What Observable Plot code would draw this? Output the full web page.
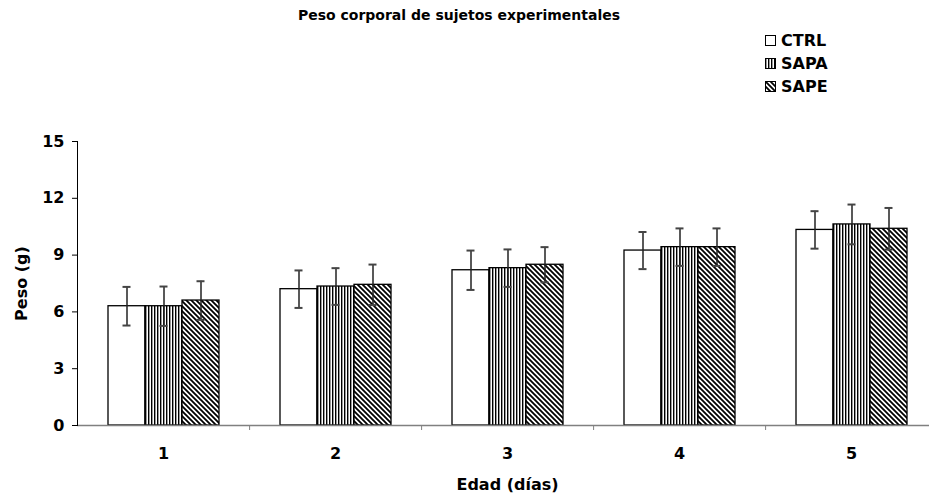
<!DOCTYPE html>
<html><head><meta charset="utf-8">
<script src="https://cdn.jsdelivr.net/npm/d3@7"></script>
<script src="https://cdn.jsdelivr.net/npm/@observablehq/plot@0.6"></script>
<style>
html,body{margin:0;padding:0;background:#fff;overflow:hidden;}
#wrap{position:relative;width:929px;height:498px;font-family:"DejaVu Sans",sans-serif;font-weight:bold;color:#000;}
#title{position:absolute;left:0;width:918px;top:7px;text-align:center;font-size:14px;}
#legend{position:absolute;left:765px;top:29px;font-size:16px;}
.row{display:flex;align-items:center;height:23px;}
.row svg{margin-right:5px;}
#chart{position:absolute;left:0;top:100px;}
</style></head>
<body>
<svg width="0" height="0" style="position:absolute"><defs>
<pattern id="pv" patternUnits="userSpaceOnUse" width="3" height="3">
<rect width="3" height="3" fill="#fff"/><rect width="1" height="3" fill="#000"/><rect x="1" width="1" height="3" fill="#999"/>
</pattern>
<pattern id="pd" patternUnits="userSpaceOnUse" width="5" height="5">
<rect width="5" height="5" fill="#fff"/>
<path d="M-1,-1L6,6M-1,4L1,6M4,-1L6,1" stroke="#000" stroke-width="1.8"/>
</pattern>
</defs></svg>
<div id="wrap">
<div id="title">Peso corporal de sujetos experimentales</div>
<div id="legend"></div>
<div id="chart"></div>
</div>
<script>
const days = ["1", "2", "3", "4", "5"];
const series = ["CTRL", "SAPA", "SAPE"];
const ctrlMean = [6.3, 7.2, 8.2, 9.24, 10.33];
const sapaMean = [6.3, 7.34, 8.31, 9.42, 10.62];
const sapeMean = [6.6, 7.43, 8.49, 9.42, 10.39];
const ctrlSd = [1.02, 0.99, 1.04, 0.98, 0.99];
const sapaSd = [1.04, 0.97, 0.99, 0.99, 1.05];
const sapeSd = [1.02, 1.07, 0.93, 0.99, 1.1];
const yTicks = [0, 3, 6, 9, 12, 15];
const fills = ["#fff", "url(#pv)", "url(#pd)"];

const means = [ctrlMean, sapaMean, sapeMean];
const sds = [ctrlSd, sapaSd, sapeSd];
const rows = [];
days.forEach((d, i) => series.forEach((s, j) => rows.push({day: d, series: s, mean: means[j][i], sd: sds[j][i]})));

const W = 929, ML = 76, MR = -8;
const band = (W - ML - MR) / days.length;
const barW = 38;
const po = (band / barW - series.length) / 2;

const chart = Plot.plot({
  width: W, height: 398,
  marginLeft: ML, marginRight: MR, marginTop: 41, marginBottom: 73,
  style: {fontFamily: "DejaVu Sans, sans-serif", fontWeight: "bold", fontSize: "15px", color: "#000", background: "transparent", overflow: "visible"},
  fx: {domain: days, padding: 0},
  x: {domain: series, paddingInner: 0, paddingOuter: po, axis: null},
  y: {domain: [0, 15]},
  color: {domain: series, range: fills},
  marks: [
    Plot.barY(rows, {fx: "day", x: "series", y: "mean", fill: "series", stroke: "#000", strokeWidth: 1.3}),
    Plot.ruleX(rows, {fx: "day", x: "series", y1: d => d.mean - d.sd, y2: d => d.mean + d.sd, stroke: "#222", strokeWidth: 1.5}),
    Plot.tickY(rows, {fx: "day", x: "series", y: d => d.mean + d.sd, insetLeft: 14.5, insetRight: 14.5, stroke: "#444", strokeWidth: 2}),
    Plot.tickY(rows, {fx: "day", x: "series", y: d => d.mean - d.sd, insetLeft: 14.5, insetRight: 14.5, stroke: "#444", strokeWidth: 2}),
    Plot.ruleY([0], {stroke: "#808080", strokeWidth: 1.5}),
    Plot.frame({anchor: "left", facetAnchor: "left", stroke: "#000"}),
    Plot.axisY({ticks: yTicks, tickSize: 5, tickPadding: 8, fontSize: 16, label: "Peso (g)", labelAnchor: "center", labelArrow: "none", labelOffset: 62}),
    Plot.axisFx({anchor: "bottom", tickSize: 0, tickPadding: 22, fontSize: 16, label: "Edad (días)", labelAnchor: "center", labelArrow: "none", labelOffset: 64}),
    Plot.axisFx({anchor: "bottom", tickSize: 5, text: null, label: null, dx: band / 2, stroke: "#808080"})
  ]
});
document.getElementById("chart").appendChild(chart);

const leg = document.getElementById("legend");
series.forEach((s, j) => {
  const row = document.createElement("div");
  row.className = "row";
  row.innerHTML = `<svg width="11" height="11"><rect x="0.5" y="0.5" width="10" height="10" fill="${fills[j]}" stroke="#000" stroke-width="1"/></svg><span>${s}</span>`;
  leg.appendChild(row);
});
</script>
</body></html>
